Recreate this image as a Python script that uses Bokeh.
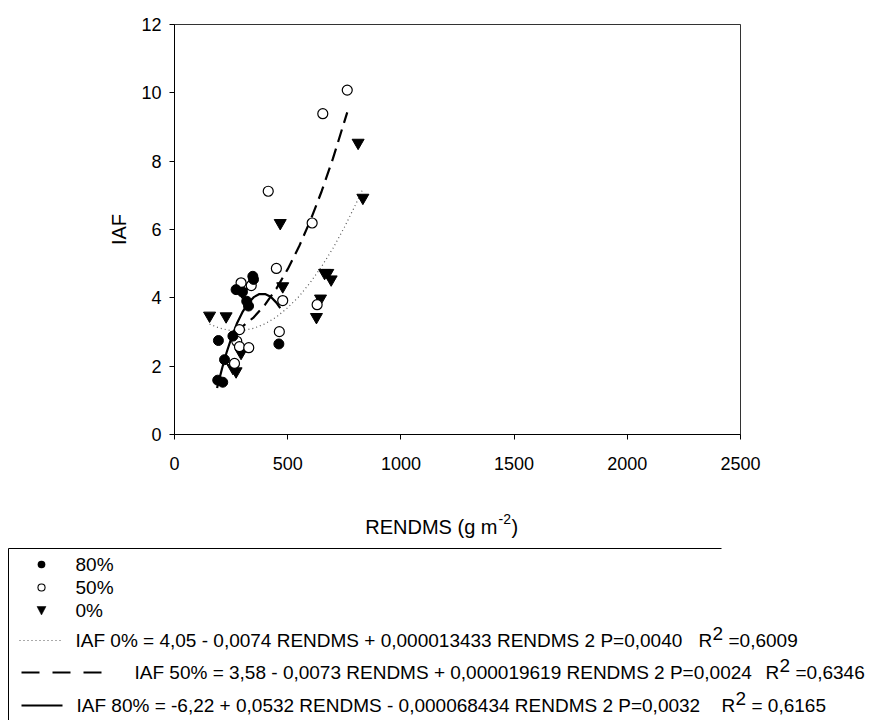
from bokeh.plotting import figure
from bokeh.models import Range1d, FixedTicker
from bokeh.core.properties import value
from bokeh.embed import file_html
from bokeh.resources import INLINE

# ---- data ----
x80 = [191, 213, 194, 221, 258, 272, 300, 319, 327, 346, 349, 461]
y80 = [1.59, 1.53, 2.75, 2.19, 2.88, 4.24, 4.17, 3.90, 3.76, 4.63, 4.54, 2.65]

x50 = [763, 655, 414, 608, 450, 478, 630, 463, 294, 339, 287, 275, 287, 328, 265]
y50 = [10.08, 9.39, 7.12, 6.19, 4.86, 3.92, 3.80, 3.01, 4.44, 4.36, 3.07, 2.73, 2.57, 2.54, 2.08]

x0 = [811, 832, 467, 663, 677, 692, 645, 627, 478, 155, 228, 299, 294, 258, 272]
y0 = [8.54, 6.93, 6.19, 4.73, 4.73, 4.54, 3.98, 3.44, 4.34, 3.48, 3.46, 4.18, 2.39, 1.95, 1.85]

# fitted curves
fit0_x = [155, 200, 250, 300, 350, 400, 450, 500, 550, 600, 650, 700, 750, 800, 832]
fit0_y = [3.23, 3.11, 3.04, 3.04, 3.11, 3.24, 3.44, 3.71, 4.04, 4.45, 4.92, 5.45, 6.06, 6.73, 7.19]

fit50_x = [265, 300, 350, 400, 450, 500, 550, 600, 650, 700, 763]
fit50_y = [3.02, 3.16, 3.43, 3.80, 4.27, 4.84, 5.50, 6.26, 7.12, 8.08, 9.43]

fit80_x = [188, 210, 230, 250, 275, 300, 325, 350, 375, 400, 425, 450, 467]
fit80_y = [1.36, 1.93, 2.40, 2.80, 3.24, 3.58, 3.84, 4.02, 4.11, 4.11, 4.03, 3.86, 3.70]

x_ticks = [0, 500, 1000, 1500, 2000, 2500]
y_ticks = [0, 2, 4, 6, 8, 10, 12]

legend_markers = ["80%", "50%", "0%"]
eq_texts = [
    "IAF 0% = 4,05 - 0,0074 RENDMS + 0,000013433 RENDMS 2 P=0,0040",
    "IAF 50% = 3,58 - 0,0073 RENDMS + 0,000019619 RENDMS 2  P=0,0024",
    "IAF 80% = -6,22 +  0,0532 RENDMS - 0,000068434 RENDMS 2  P=0,0032",
]
r2_texts = ["=0,6009", "=0,6346", "= 0,6165"]

FONT = "Liberation Sans"

# ---- layout geometry (pixels) ----
FL, FT, FW, FH = 175, 25, 566, 410   # frame left/top/width/height on the picture


def px(xp):   # picture x pixel -> data x (for annotation placement only)
    return (xp - FL) / FW * 2500


def py(yp):   # picture y pixel -> data y
    return (FT + FH - yp) / FH * 12


p = figure(frame_width=FW, frame_height=FH,
           min_border_left=174, min_border_right=138, min_border_top=24, min_border_bottom=286,
           x_range=Range1d(0, 2500), y_range=Range1d(0, 12),
           output_backend="svg", toolbar_location=None)
p.grid.visible = False
p.outline_line_color = "black"
p.outline_line_width = 1
p.outline_line_alpha = 0.8
p.background_fill_color = "white"
p.border_fill_color = "white"

for ax in (p.xaxis[0], p.yaxis[0]):
    ax.axis_line_color = "black"
    ax.major_tick_line_color = "black"
    ax.major_tick_in = 0
    ax.major_tick_out = 5
    ax.minor_tick_line_color = None
    ax.major_label_text_font = FONT
    ax.major_label_text_font_size = "18px"
    ax.major_label_text_color = "black"

p.xaxis[0].ticker = FixedTicker(ticks=x_ticks)
p.yaxis[0].ticker = FixedTicker(ticks=y_ticks)
p.xaxis[0].major_label_standoff = 17
p.yaxis[0].major_label_standoff = 8
p.yaxis[0].axis_label = "IAF"
p.yaxis[0].axis_label_text_font = FONT
p.yaxis[0].axis_label_text_font_size = "20px"
p.yaxis[0].axis_label_text_font_style = "normal"
p.yaxis[0].axis_label_text_color = "black"
p.yaxis[0].axis_label_standoff = 8

p.line(fit0_x, fit0_y, line_color="#555555", line_width=1.2, line_dash="1 3")
p.line(fit50_x, fit50_y, line_color="black", line_width=2.2, line_dash="13 7")
p.line(fit80_x, fit80_y, line_color="black", line_width=2.2)

p.scatter(x0, y0, marker="inverted_triangle", size=12, fill_color="black", line_color="black")
p.scatter(x50, y50, marker="circle", size=10, fill_color="white", line_color="black", line_width=1.2)
p.scatter(x80, y80, marker="circle", size=10, fill_color="black", line_color="black")

OV = dict(level="overlay")
TXT = dict(text_font=value(FONT), text_baseline="middle", text_color="black", **OV)

# x-axis title with superscript
TY = 527
p.text(x=[px(498)], y=[py(TY)], text=["RENDMS (g m"], text_font_size="20px", text_align="right", **TXT)
p.text(x=[px(499)], y=[py(TY - 8)], text=["-2"], text_font_size="14px", text_align="left", **TXT)
p.text(x=[px(512)], y=[py(TY)], text=[")"], text_font_size="20px", text_align="left", **TXT)

# legend box (left and top border)
BOX_TOP = 549
p.segment(x0=[px(9), px(9)], y0=[py(BOX_TOP), py(BOX_TOP)], x1=[px(9), px(722)], y1=[py(740), py(BOX_TOP)],
          line_color="black", line_width=1, **OV)

# marker entries (legend symbols)
MX = 42
my = [565, 588, 611]


def dot(yp, d, color):
    p.line([px(MX - 0.1), px(MX + 0.1)], [py(yp)] * 2, line_width=d, line_cap="round",
           line_color=color, **OV)


dot(my[0], 7.5, "black")
dot(my[1], 8, "black")
dot(my[1], 5.8, "white")
p.patch([px(MX - 4.5), px(MX + 4.5), px(MX)], [py(my[2] - 4), py(my[2] - 4), py(my[2] + 4.5)],
        fill_color="black", line_color="black", line_width=0.5, **OV)
p.text(x=[px(76)] * 3, y=[py(v) for v in my], text=legend_markers, text_font_size="19px", **TXT)

# line entries
ly = [641, 673, 706]
p.line([px(20), px(63)], [py(ly[0])] * 2, line_color="#555555", line_width=1, line_dash="1 3", **OV)
p.line([px(22), px(102)], [py(ly[1])] * 2, line_color="black", line_width=2, line_dash="18 13", **OV)
p.line([px(22), px(63)], [py(ly[2])] * 2, line_color="black", line_width=2, **OV)

FS = 19
eq_x = [76, 135, 77]
r_x = [699, 766, 722]
eq_gap = [30, 30, 30]
for i in range(3):
    p.text(x=[px(eq_x[i])], y=[py(ly[i])], text=[eq_texts[i]], text_font_size=f"{FS}px", **TXT)
    p.text(x=[px(r_x[i])], y=[py(ly[i])], text=["R"], text_font_size=f"{FS}px", **TXT)
    p.text(x=[px(r_x[i] + 14)], y=[py(ly[i] - 7)], text=["2"], text_font_size=f"{FS}px", **TXT)
    p.text(x=[px(r_x[i] + eq_gap[i])], y=[py(ly[i])], text=[r2_texts[i]], text_font_size=f"{FS}px", **TXT)

open("out.html", "w").write(file_html(p, INLINE))
